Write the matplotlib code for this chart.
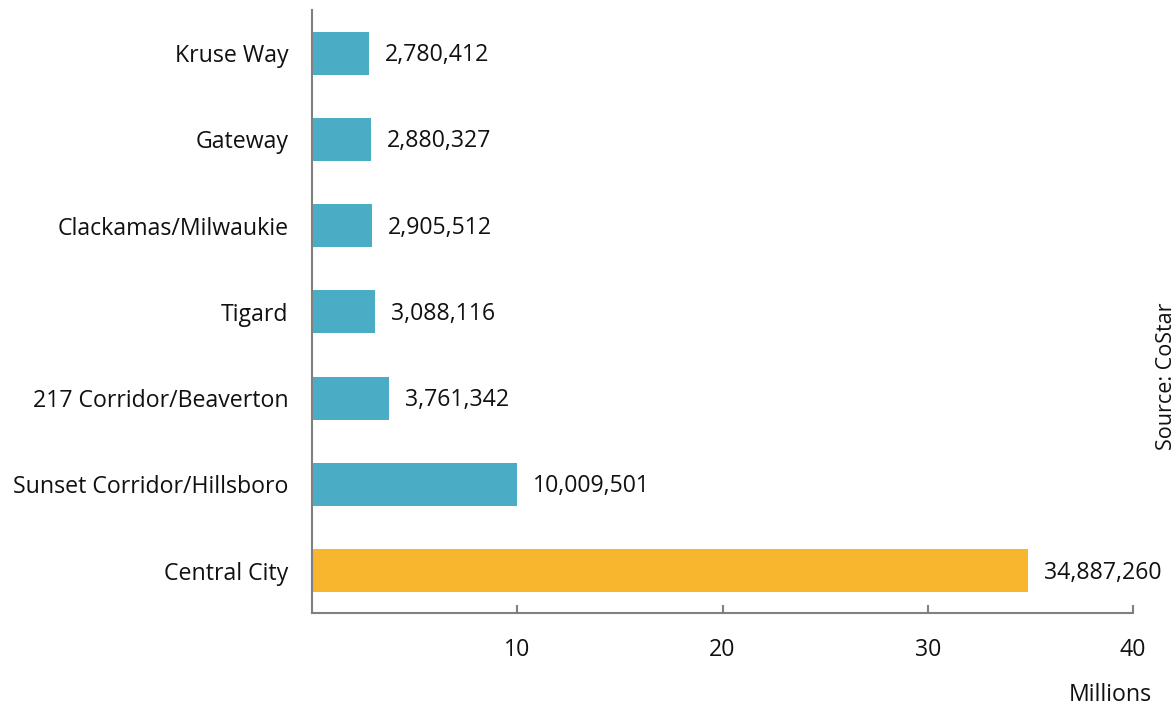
import matplotlib
matplotlib.use("Agg")
import matplotlib.pyplot as plt

categories = ["Central City", "Sunset Corridor/Hillsboro", "217 Corridor/Beaverton",
              "Tigard", "Clackamas/Milwaukie", "Gateway", "Kruse Way"]
values = [34887260, 10009501, 3761342, 3088116, 2905512, 2880327, 2780412]
colors = ["#F8B62F"] + ["#4BACC6"] * 6
xticks = [10, 20, 30, 40]

plt.rcParams['font.family'] = ['Open Sans', 'DejaVu Sans']
FS = 16.7

fig = plt.figure(figsize=(11.75, 7.08), dpi=100)
ax = fig.add_axes([312/1175, 1 - 613/708, (1133-312)/1175, (613-10)/708])

vals_m = [v / 1e6 for v in values]
ypos = list(range(len(categories)))
ax.barh(ypos, vals_m, height=0.5, color=colors)
for y, v, raw in zip(ypos, vals_m, values):
    ax.annotate(f"{raw:,}", (v, y), xytext=(16, -2), textcoords="offset pixels",
                va="center", ha="left", fontsize=FS, color="#111111")

ax.set_xlim(0, 40)
ax.set_ylim(-0.49, 6.5)
ax.set_yticks(ypos)
ax.set_yticklabels(categories, fontsize=FS, color="#111111")
ax.set_xticks(xticks)
ax.set_xticklabels([str(t) for t in xticks], fontsize=FS, color="#111111")
ax.tick_params(axis="y", length=0, pad=17)
ax.tick_params(axis="x", direction="in", length=6, width=1.5, color="#808080", pad=18)
for s in ["top", "right"]:
    ax.spines[s].set_visible(False)
for s in ["left", "bottom"]:
    ax.spines[s].set_color("#808080")
    ax.spines[s].set_linewidth(1.5)

fig.text(1152/1175, 1 - 695/708, "Millions", ha="right", va="center", fontsize=FS, color="#111111")
fig.text(1166/1175, 1 - 376/708, "Source: CoStar", ha="center", va="center", rotation=90,
         fontsize=15.5, color="#111111")

fig.savefig("out.png", dpi=100)
